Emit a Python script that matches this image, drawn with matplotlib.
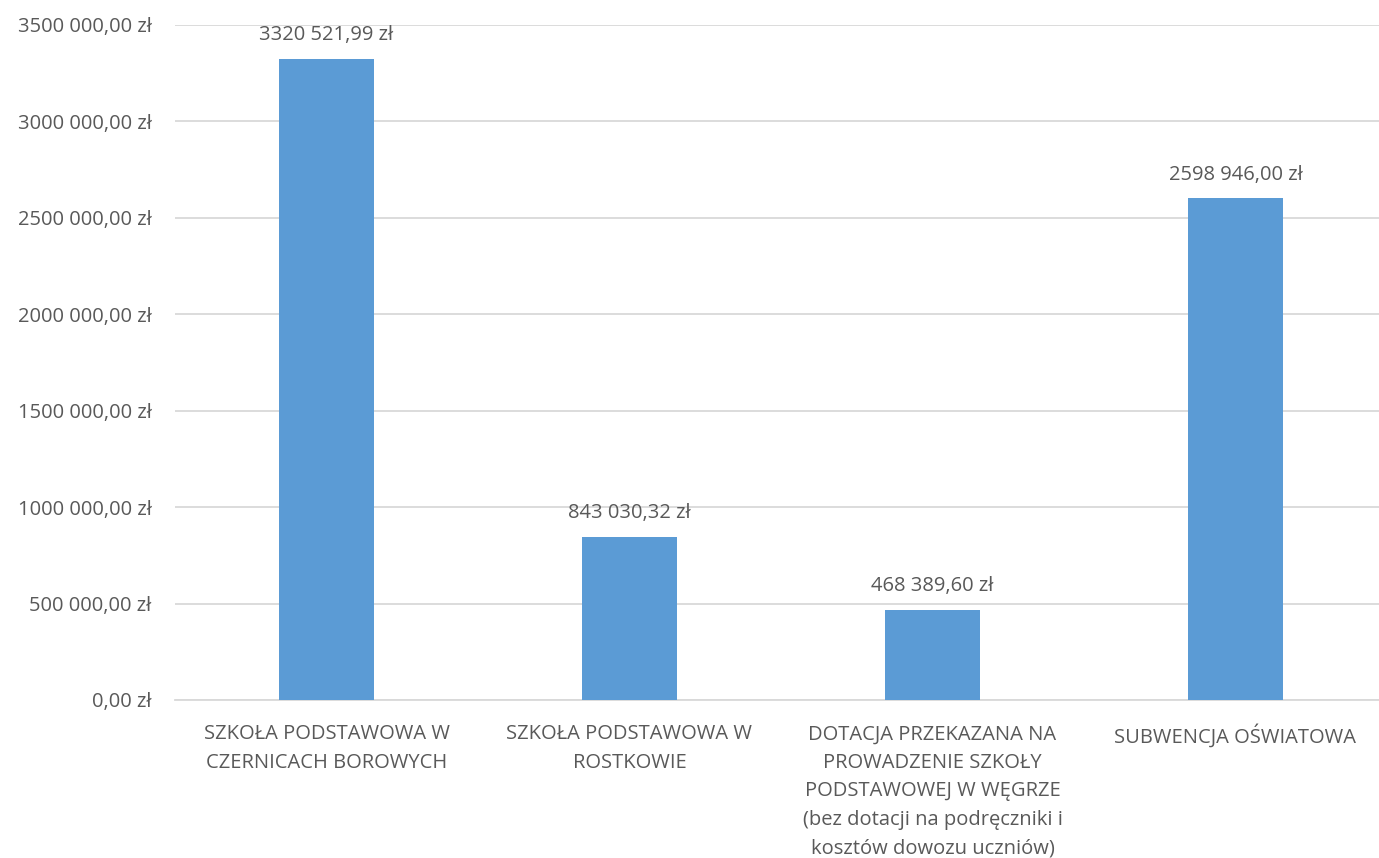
import numpy as np
import matplotlib.pyplot as plt

# -------------------------------------------------------------
# Data
# -------------------------------------------------------------
categories = [
    "SZKOŁA PODSTAWOWA W\nCZERNICACH BOROWYCH",
    "SZKOŁA PODSTAWOWA W\nROSTKOWIE",
    "DOTACJA PRZEKAZANA NA\nPROWADZENIE SZKOŁY\nPODSTAWOWEJ W WĘGRZE\n(bez dotacji na podręczniki i\nkosztów dowozu uczniów)",
    "SUBWENCJA OŚWIATOWA",
]
values = [3320521.99, 843030.32, 468389.60, 2598946.00]
y_ticks = [0, 500000, 1000000, 1500000, 2000000, 2500000, 3000000, 3500000]


def fmt_pln(v):
    # Excel-like Polish style: only the last thousands group is separated
    whole, frac = f"{v:.2f}".split(".")
    if len(whole) > 3:
        whole = whole[:-3] + " " + whole[-3:]
    return f"{whole},{frac} zł"


plt.rcParams['font.family'] = ['Open Sans', 'DejaVu Sans']
text_color = "#595959"
bar_color = "#5B9BD5"
fs = 14.5

W, H = 1379, 858
fig = plt.figure(figsize=(W / 100, H / 100), dpi=100)
ax = fig.add_axes([175 / W, 1 - 700 / H, 1212 / W, 675.5 / H])

x = np.arange(len(categories))
bars = ax.bar(x, values, width=0.314, color=bar_color, zorder=3)

ax.set_xlim(-0.5, len(categories) - 0.5)
ax.set_ylim(0, 3500000)
ax.set_yticks(y_ticks)
ax.set_yticklabels([fmt_pln(v) for v in y_ticks], fontsize=fs, color=text_color)
ax.set_xticks(x)
ax.set_xticklabels(categories, fontsize=fs, color=text_color, linespacing=1.57, va="top")

ax.yaxis.grid(True, color="#D9D9D9", linewidth=1.3, zorder=0)
ax.set_axisbelow(True)
for side in ["top", "right", "left"]:
    ax.spines[side].set_visible(False)
ax.spines["bottom"].set_color("#D9D9D9")
ax.spines["bottom"].set_linewidth(1.3)
ax.tick_params(axis="both", length=0)
ax.tick_params(axis="y", pad=17)
ax.tick_params(axis="x", pad=17.5)

for b, v in zip(bars, values):
    ax.annotate(fmt_pln(v), (b.get_x() + b.get_width() / 2, v),
                xytext=(0, 10), textcoords="offset points",
                ha="center", va="bottom", fontsize=fs, color=text_color)

fig.savefig("out.png", dpi=100)
